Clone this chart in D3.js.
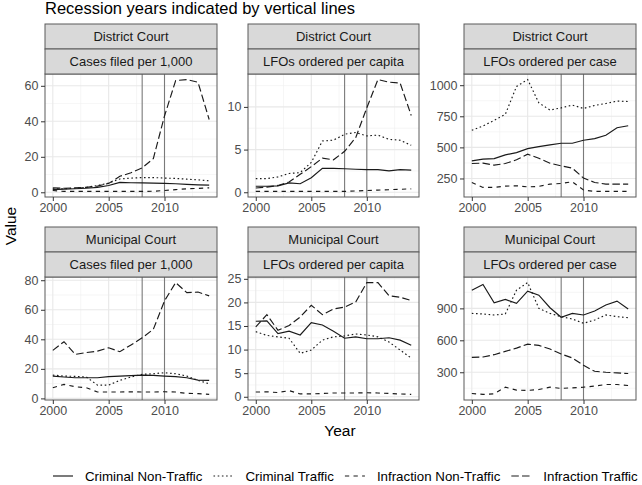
<!DOCTYPE html>
<html>
<head>
<meta charset="utf-8">
<script src="https://cdn.jsdelivr.net/npm/d3@7"></script>
<style>
  html, body { margin: 0; padding: 0; background: #fff; }
  svg { display: block; font-family: "Liberation Sans", Arial, Helvetica, sans-serif; }
</style>
</head>
<body>
<svg id="chart" width="642" height="485"></svg>
<script>
// ---------------- DATA ----------------
const years = [2000, 2001, 2002, 2003, 2004, 2005, 2006, 2007, 2008, 2009, 2010, 2011, 2012, 2013, 2014];
const seriesNames = ["Criminal Non-Traffic", "Criminal Traffic", "Infraction Non-Traffic", "Infraction Traffic"];
const courts = ["District Court", "Municipal Court"];
const measures = ["Cases filed per 1,000", "LFOs ordered per capita", "LFOs ordered per case"];
const recessionYears = [2008, 2010];
const xTickLabels = [2000, 2005, 2010];
const chartTitle = "Recession years indicated by vertical lines";
const xAxisTitle = "Year";
const yAxisTitle = "Value";

// values in series order: Criminal Non-Traffic, Criminal Traffic, Infraction Non-Traffic, Infraction Traffic
const districtCasesFiled = [
  [1.5, 1.8, 2.0, 2.3, 2.8, 3.8, 5.6, 5.4, 5.3, 5.2, 5.0, 4.8, 4.5, 4.2, 4.0],
  [2.0, 2.0, 2.3, 2.8, 3.8, 5.2, 7.5, 8.0, 8.3, 8.3, 8.0, 7.8, 7.4, 7.0, 6.5],
  [1.0, 0.5, 0.5, 0.5, 0.5, 0.5, 0.5, 0.5, 0.5, 0.6, 1.0, 1.5, 2.0, 2.2, 2.5],
  [2.5, 2.3, 2.5, 2.8, 3.5, 5.0, 9.0, 11.0, 13.8, 19.0, 43.0, 63.0, 63.5, 62.0, 41.0]
];
const districtLFOsPerCapita = [
  [0.7, 0.7, 0.75, 1.1, 1.0, 1.7, 2.8, 2.8, 2.75, 2.7, 2.65, 2.65, 2.5, 2.65, 2.6],
  [1.6, 1.6, 1.8, 2.2, 2.3, 3.5, 6.0, 6.1, 6.8, 7.0, 6.6, 6.7, 6.2, 6.1, 5.5],
  [0.1, 0.1, 0.1, 0.1, 0.1, 0.1, 0.1, 0.1, 0.1, 0.15, 0.2, 0.25, 0.3, 0.35, 0.4],
  [0.5, 0.6, 0.8, 1.2, 2.1, 3.0, 4.0, 3.8, 4.8, 6.4, 9.9, 13.2, 12.9, 12.8, 9.0]
];
const districtLFOsPerCase = [
  [392, 405, 410, 440, 458, 490, 506, 520, 533, 533, 557, 570, 597, 658, 674],
  [637, 672, 717, 765, 990, 1045, 858, 800, 818, 840, 813, 837, 853, 872, 869],
  [218, 178, 178, 189, 191, 183, 186, 205, 210, 223, 157, 146, 146, 146, 146],
  [370, 373, 357, 370, 400, 445, 413, 373, 351, 333, 253, 218, 205, 205, 205]
];
const municipalCasesFiled = [
  [15.1, 14.5, 14.0, 14.0, 14.0, 14.7, 15.1, 15.4, 15.8, 15.6, 15.1, 14.7, 14.0, 12.4, 12.2],
  [15.8, 15.1, 14.9, 14.5, 9.0, 9.0, 12.2, 14.5, 16.3, 16.7, 17.4, 16.7, 15.1, 12.2, 9.9],
  [7.2, 9.5, 7.9, 7.2, 4.3, 4.3, 4.3, 4.5, 4.3, 4.3, 4.5, 4.3, 3.4, 3.2, 2.7],
  [32.5, 38.4, 29.8, 31.0, 32.0, 34.3, 31.6, 36.2, 41.0, 46.8, 66.0, 78.4, 71.6, 72.0, 69.4]
];
const municipalLFOsPerCapita = [
  [16.0, 16.1, 13.4, 13.9, 13.1, 15.7, 15.2, 13.9, 12.4, 12.7, 12.3, 12.3, 12.5, 12.0, 10.9],
  [13.8, 13.0, 12.7, 12.4, 9.2, 9.9, 12.0, 12.7, 12.9, 13.3, 13.1, 12.7, 11.6, 9.9, 8.2],
  [1.0, 1.05, 0.9, 1.3, 0.6, 0.6, 0.7, 0.8, 0.8, 0.8, 0.85, 0.8, 0.7, 0.6, 0.5],
  [14.8, 17.4, 14.1, 15.1, 16.9, 19.4, 17.4, 18.6, 19.0, 20.1, 24.2, 24.2, 21.4, 21.1, 20.4]
];
const municipalLFOsPerCase = [
  [1071, 1124, 953, 984, 947, 1062, 1024, 906, 816, 853, 838, 875, 931, 968, 894],
  [853, 847, 838, 847, 1071, 1142, 900, 853, 822, 800, 760, 791, 838, 822, 813],
  [101, 92, 98, 160, 132, 129, 138, 160, 148, 154, 160, 170, 185, 185, 176],
  [440, 443, 465, 496, 527, 564, 552, 518, 471, 434, 365, 309, 300, 294, 288]
];
const yTicksDistrict = [[0, 20, 40, 60], [0, 5, 10], [250, 500, 750, 1000]];
const yTicksMunicipal = [[0, 20, 40, 60, 80], [0, 5, 10, 15, 20, 25], [300, 600, 900]];

const panelValues = [
  [districtCasesFiled, districtLFOsPerCapita, districtLFOsPerCase],
  [municipalCasesFiled, municipalLFOsPerCapita, municipalLFOsPerCase]
];
const panelTicks = [yTicksDistrict, yTicksMunicipal];

// ---------------- LAYOUT / STYLE ----------------
const colX = [[45, 217], [248, 419], [464, 636]];
const rowStripTop = [24, 227];
const stripH = 25;
const rowPlotBottom = [197, 400];
const dashes = [null, "1.6,2.6", "4.3,4.3", "7.5,3.2"];
const FONT = "'Liberation Sans', Arial, Helvetica, sans-serif";

const svg = d3.select("#chart");

svg.append("text").attr("x", 45).attr("y", 14)
  .attr("font-size", 16.5).attr("fill", "#000").text(chartTitle);

courts.forEach((court, r) => {
  measures.forEach((measure, c) => {
    const [x0, x1] = colX[c];
    const sTop = rowStripTop[r];
    const pTop = sTop + 2 * stripH;
    const pBot = rowPlotBottom[r];
    const series = panelValues[r][c];
    const ticks = panelTicks[r][c];

    const xPad = (years[years.length - 1] - years[0]) * 0.05;
    const x = d3.scaleLinear().domain([years[0] - xPad, years[years.length - 1] + xPad]).range([x0, x1]);
    const all = series.flat();
    const ymin = d3.min(all), ymax = d3.max(all);
    const yPad = (ymax - ymin) * 0.05;
    const y = d3.scaleLinear().domain([ymin - yPad, ymax + yPad]).range([pBot, pTop]);

    const g = svg.append("g");
    g.append("rect").attr("x", x0).attr("y", pTop).attr("width", x1 - x0).attr("height", pBot - pTop).attr("fill", "#fff");

    // minor grid
    const xStep = xTickLabels[1] - xTickLabels[0];
    const xMinor = [];
    for (let v = xTickLabels[0] - xStep / 2; v <= xTickLabels[xTickLabels.length - 1] + xStep / 2 + 1e-9; v += xStep) {
      if (v >= x.domain()[0] && v <= x.domain()[1]) xMinor.push(v);
    }
    const yStep = ticks[1] - ticks[0];
    const yMinor = [];
    for (let v = ticks[0] - yStep / 2; v <= ticks[ticks.length - 1] + yStep / 2 + 1e-9; v += yStep) {
      if (v >= y.domain()[0] && v <= y.domain()[1]) yMinor.push(v);
    }
    g.selectAll(".xminor").data(xMinor).enter().append("line")
      .attr("x1", d => x(d)).attr("x2", d => x(d)).attr("y1", pTop).attr("y2", pBot)
      .attr("stroke", "#f0f0f0").attr("stroke-width", 0.6);
    g.selectAll(".yminor").data(yMinor).enter().append("line")
      .attr("x1", x0).attr("x2", x1).attr("y1", d => y(d)).attr("y2", d => y(d))
      .attr("stroke", "#f0f0f0").attr("stroke-width", 0.6);
    g.selectAll(".xmajor").data(xTickLabels).enter().append("line")
      .attr("x1", d => x(d)).attr("x2", d => x(d)).attr("y1", pTop).attr("y2", pBot)
      .attr("stroke", "#e8e8e8").attr("stroke-width", 1.1);
    g.selectAll(".ymajor").data(ticks).enter().append("line")
      .attr("x1", x0).attr("x2", x1).attr("y1", d => y(d)).attr("y2", d => y(d))
      .attr("stroke", "#e8e8e8").attr("stroke-width", 1.1);

    // recession lines
    g.selectAll(".rec").data(recessionYears).enter().append("line")
      .attr("x1", d => x(d)).attr("x2", d => x(d)).attr("y1", pTop).attr("y2", pBot)
      .attr("stroke", "#7a7a7a").attr("stroke-width", 1.1);

    // data lines
    const line = d3.line().x((d, i) => x(years[i])).y(d => y(d));
    series.forEach((vals, si) => {
      g.append("path").attr("d", line(vals)).attr("fill", "none")
        .attr("stroke", "#1a1a1a").attr("stroke-width", 1.15)
        .attr("stroke-dasharray", dashes[si]);
    });

    // border
    g.append("rect").attr("x", x0).attr("y", pTop).attr("width", x1 - x0).attr("height", pBot - pTop)
      .attr("fill", "none").attr("stroke", "#5a5a5a").attr("stroke-width", 1);

    // strips
    [court, measure].forEach((label, k) => {
      g.append("rect").attr("x", x0).attr("y", sTop + k * stripH).attr("width", x1 - x0).attr("height", stripH)
        .attr("fill", "#d9d9d9").attr("stroke", "#5a5a5a").attr("stroke-width", 1);
      g.append("text").attr("x", (x0 + x1) / 2).attr("y", sTop + k * stripH + stripH / 2 + 4.5)
        .attr("text-anchor", "middle").attr("font-size", 13).attr("fill", "#1a1a1a").text(label);
    });

    // axes
    const ya = g.append("g").attr("transform", `translate(${x0},0)`)
      .call(d3.axisLeft(y).tickValues(ticks).tickFormat(d3.format("d")).tickSize(4).tickPadding(2.5));
    const xa = g.append("g").attr("transform", `translate(0,${pBot})`)
      .call(d3.axisBottom(x).tickValues(xTickLabels).tickFormat(d3.format("d")).tickSize(4).tickPadding(2.5));
    [ya, xa].forEach(a => {
      a.select(".domain").remove();
      a.selectAll(".tick line").attr("stroke", "#333");
      a.selectAll(".tick text").attr("fill", "#4d4d4d").attr("font-size", 12.5).attr("font-family", FONT);
    });
  });
});

// axis titles
svg.append("text").attr("x", 340).attr("y", 436).attr("text-anchor", "middle")
  .attr("font-size", 15.5).attr("fill", "#000").text(xAxisTitle);
svg.append("text").attr("transform", "translate(15.5,226) rotate(-90)").attr("text-anchor", "middle")
  .attr("font-size", 15.5).attr("fill", "#000").text(yAxisTitle);

// legend
const legY = 476;
let lx = 53;
seriesNames.forEach((name, i) => {
  svg.append("line").attr("x1", lx).attr("x2", lx + 20).attr("y1", legY).attr("y2", legY)
    .attr("stroke", "#1a1a1a").attr("stroke-width", 1.15).attr("stroke-dasharray", dashes[i]);
  const t = svg.append("text").attr("x", lx + 32).attr("y", legY + 4.6)
    .attr("font-size", 13.3).attr("fill", "#000").text(name);
  lx += 32 + t.node().getComputedTextLength() + 11;
});
</script>
</body>
</html>
